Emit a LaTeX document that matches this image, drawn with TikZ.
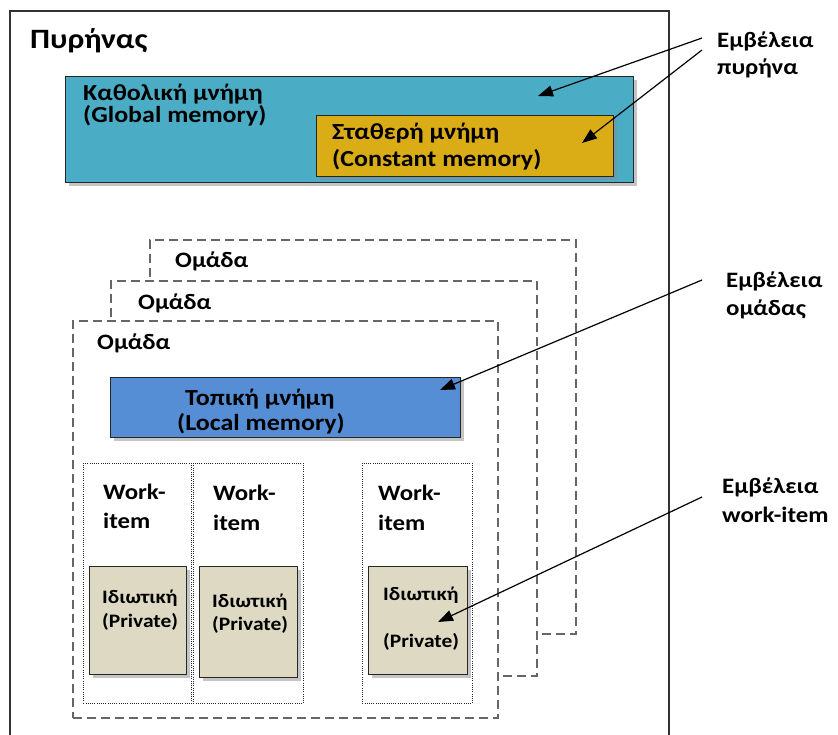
\documentclass[tikz,border=0pt]{standalone}
\usepackage{fontspec}
\setmainfont{Carlito}[FakeStretch=1.13]
\usetikzlibrary{positioning,arrows.meta,shadows}
\definecolor{globc}{RGB}{75,172,198}
\definecolor{constc}{RGB}{218,172,22}
\definecolor{localc}{RGB}{85,142,213}
\definecolor{privc}{RGB}{221,217,195}
\tikzset{
  kframe/.style  = {draw=black!80, line width=1.2pt},
  membox/.style  = {draw=black!85, line width=1.3pt, anchor=north west, inner sep=0pt,
                    drop shadow={shadow xshift=3pt, shadow yshift=-3pt, fill=black!45}},
  grpbox/.style  = {draw=black!60, fill=white, line width=1.8pt, anchor=north west,
                    inner sep=0pt, dash pattern=on 9pt off 5pt},
  wibox/.style   = {draw=black!85, line width=0.9pt, anchor=north west, inner sep=0pt,
                    dash pattern=on 1pt off 1.2pt},
  ttl/.style     = {font=\fontsize{28}{29}\selectfont\bfseries, inner sep=0pt, anchor=base west},
  lbl/.style     = {font=\fontsize{22}{24}\selectfont\bfseries, inner sep=0pt, anchor=base west},
  mlbl/.style    = {font=\fontsize{23}{24}\selectfont\bfseries, inner sep=0pt, anchor=base west},
  plbl/.style    = {font=\fontsize{19}{20}\selectfont\bfseries, inner sep=0pt, anchor=base west},
  arr/.style     = {line width=1.2pt, -{Triangle[length=15pt, width=11pt]}},
}
\begin{document}
\begin{tikzpicture}[x=1pt, y=-1pt]
  \useasboundingbox (0,0) rectangle (838,735);
  % kernel frame
  \coordinate (kbl) at (10,745);
  \coordinate (kbr) at (669,745);
  \draw[kframe] (kbl) |- (669,11) -- (kbr);
  \node[ttl] (kern) at (30,49) {Πυρήνας};

  % global / constant memory
  \node[membox, fill=globc, minimum width=568pt, minimum height=106pt] (glob) at (65,76) {};
  \node[mlbl, anchor=north west, align=left, font=\fontsize{23}{20}\selectfont\bfseries]
    (globt) at (83,84) {Καθολική μνήμη\\(Global memory)};
  \node[membox, fill=constc, minimum width=297pt, minimum height=61pt] (cmem) at (316,115) {};
  \node[mlbl] (cmemA) at (332,140) {Σταθερή μνήμη};
  \node[mlbl] (cmemB) at (332,167) {(Constant memory)};

  % groups, back to front
  \node[grpbox, minimum width=426pt, minimum height=394pt] (grpC) at (149,239) {};
  \node[lbl] (grpCl) at (175,268) {Ομάδα};
  \node[grpbox, minimum width=426pt, minimum height=395pt] (grpB) at (110,280) {};
  \node[lbl] (grpBl) at (138,309) {Ομάδα};
  \node[grpbox, minimum width=425pt, minimum height=397pt] (grpA) at (72,320) {};
  \node[lbl] (grpAl) at (97,349) {Ομάδα};

  % local memory
  \node[membox, fill=localc, minimum width=350pt, minimum height=60pt] (lmem) at (110,377) {};
  \node[mlbl] (lmemA) at (185,405) {Τοπική μνήμη};
  \node[mlbl] (lmemB) at (177,430) {(Local memory)};

  % work-items
  \node[wibox, minimum width=108pt, minimum height=240pt] (wi1) at (83,463) {};
  \node[wibox, minimum width=110pt, minimum height=240pt] (wi2) at (193,463) {};
  \node[wibox, minimum width=110pt, minimum height=240pt] (wi3) at (362,463) {};
  \node[lbl] (wi1a) at (103,499) {Work-};
  \node[lbl] (wi1b) at (103,528) {item};
  \node[lbl] (wi2a) at (213,500) {Work-};
  \node[lbl] (wi2b) at (213,530) {item};
  \node[lbl] (wi3a) at (378,500) {Work-};
  \node[lbl] (wi3b) at (378,530) {item};

  % private memory
  \node[membox, fill=privc, minimum width=97pt, minimum height=108pt] (pm1) at (89,566) {};
  \node[membox, fill=privc, minimum width=98pt, minimum height=111pt] (pm2) at (199,566) {};
  \node[membox, fill=privc, minimum width=99pt, minimum height=108pt] (pm3) at (368,566) {};
  \node[plbl] (pm1a) at (102,603) {Ιδιωτική};
  \node[plbl] (pm1b) at (102,627) {(Private)};
  \node[plbl] (pm2a) at (212,607) {Ιδιωτική};
  \node[plbl] (pm2b) at (212,630) {(Private)};
  \node[plbl] (pm3a) at (383,600) {Ιδιωτική};
  \node[plbl] (pm3b) at (383,647) {(Private)};

  % scope labels
  \node[lbl] (scK1) at (717,48) {Εμβέλεια};
  \node[lbl] (scK2) at (717,75) {πυρήνα};
  \node[lbl] (scG1) at (726,288) {Εμβέλεια};
  \node[lbl] (scG2) at (726,316) {ομάδας};
  \node[lbl] (scW1) at (722,493) {Εμβέλεια};
  \node[lbl] (scW2) at (722,522) {work-item};

  % arrows
  \coordinate (kA) at (702,38);
  \coordinate (kB) at (702,50);
  \coordinate (tipG) at (538,96);
  \coordinate (tipC) at (582,143);
  \coordinate (gA) at (702,280);
  \coordinate (tipL) at (440,390);
  \coordinate (wA) at (702,497);
  \coordinate (tipP) at (438,622);
  \draw[arr] (kA) -- (tipG);
  \draw[arr] (kB) -- (tipC);
  \draw[arr] (gA) -- (tipL);
  \draw[arr] (wA) -- (tipP);
\end{tikzpicture}
\end{document}
